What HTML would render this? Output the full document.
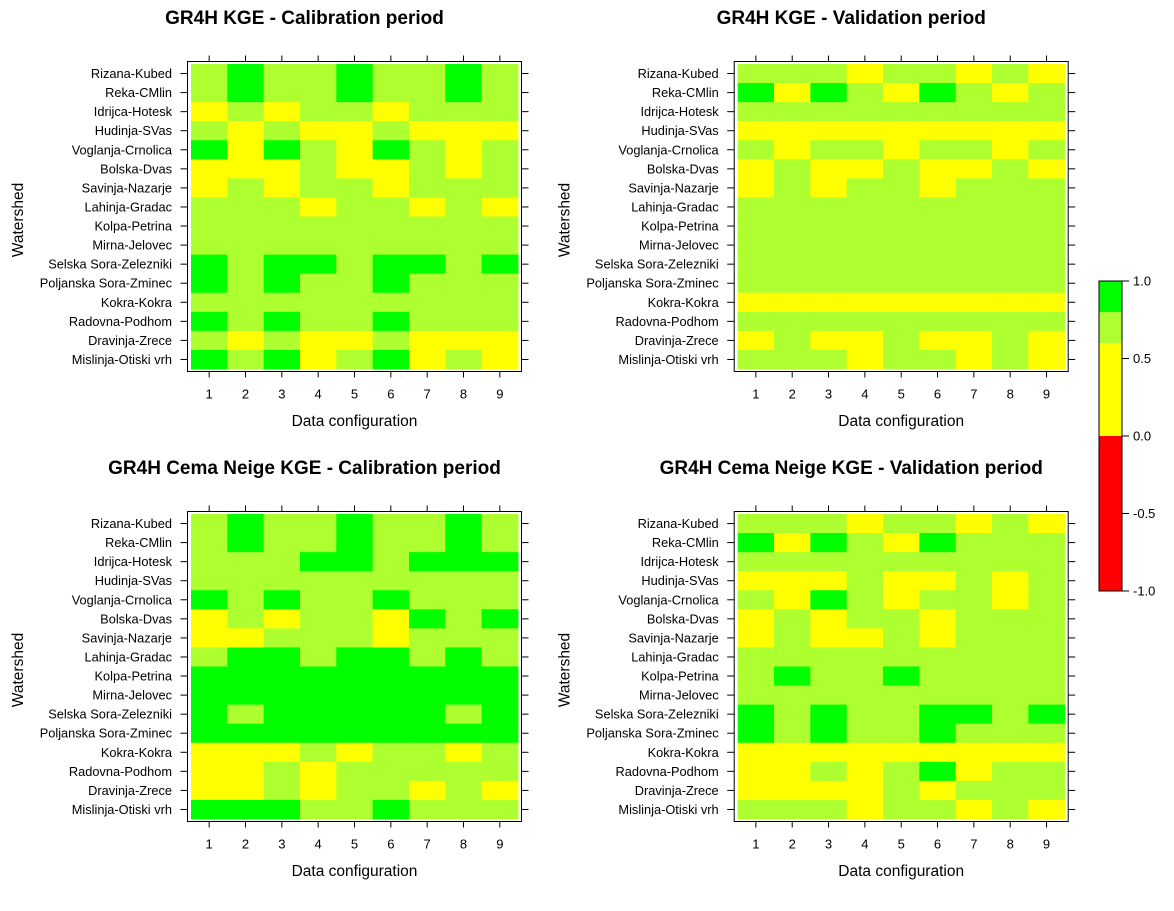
<!DOCTYPE html>
<html><head><meta charset="utf-8"><style>
body{margin:0;background:#fff;}
svg text{font-family:"Liberation Sans",Arial,sans-serif;}
</style></head><body>
<svg id="chart" width="1174" height="906" viewBox="0 0 1174 906" xmlns="http://www.w3.org/2000/svg"></svg>
<script>
const watersheds=["Rizana-Kubed","Reka-CMlin","Idrijca-Hotesk","Hudinja-SVas","Voglanja-Crnolica","Bolska-Dvas","Savinja-Nazarje","Lahinja-Gradac","Kolpa-Petrina","Mirna-Jelovec","Selska Sora-Zelezniki","Poljanska Sora-Zminec","Kokra-Kokra","Radovna-Podhom","Dravinja-Zrece","Mislinja-Otiski vrh"];
const configs=[1,2,3,4,5,6,7,8,9];
const colorBreaks=[-1,0,0.6,0.8,1];
const colorFills=["#FF0000","#FFFF00","#ADFF2F","#00FF00"];
const colorTicks=[1.0,0.5,0.0,-0.5,-1.0];
const calibGR4H=[
"LGLLGLLGL","LGLLGLLGL","YLYLLYLLL","LYLYYLYYY","GYGLYGLYL","YYYLYYLYL","YLYLLYLLL","LLLYLLYLY",
"LLLLLLLLL","LLLLLLLLL","GLGGLGGLG","GLGLLGLLL","LLLLLLLLL","GLGLLGLLL","LYLYYLYYY","GLGYLGYLY"];
const validGR4H=[
"LLLYLLYLY","GYGLYGLYL","LLLLLLLLL","YYYYYYYYY","LYLLYLLYL","YLYYLYYLY","YLYLLYLLL","LLLLLLLLL",
"LLLLLLLLL","LLLLLLLLL","LLLLLLLLL","LLLLLLLLL","YYYYYYYYY","LLLLLLLLL","YLYYLYYLY","LLLYLLYLY"];
const calibCema=[
"LGLLGLLGL","LGLLGLLGL","LLLGGLGGG","LLLLLLLLL","GLGLLGLLL","YLYLLYGLG","YYLLLYLLL","LGGLGGLGL",
"GGGGGGGGG","GGGGGGGGG","GLGGGGGLG","GGGGGGGGG","YYYLYLLYL","YYLYLLLLL","YYLYLLYLY","GGGLLGLLL"];
const validCema=[
"LLLYLLYLY","GYGLYGLLL","LLLLLLLLL","YYYLYYLYL","LYGLYLLYL","YLYLLYLLL","YLYYLYLLL","LLLLLLLLL",
"LGLLGLLLL","LLLLLLLLL","GLGLLGGLG","GLGLLGLLL","YYYYYYYYY","YYLYLGYLL","YYYYLYLLL","LLLYLLYLY"];
const codeValue={G:0.9,L:0.7,Y:0.4};

const NS="http://www.w3.org/2000/svg";
const svg=document.getElementById('chart');
function mk(tag,attrs,parent){const e=document.createElementNS(NS,tag);for(const k in attrs)e.setAttribute(k,attrs[k]);(parent||svg).appendChild(e);return e;}
function colorFor(v){for(let i=0;i<colorFills.length;i++){if(v<=colorBreaks[i+1])return colorFills[i];}return colorFills[colorFills.length-1];}

const panels=[
 {data:calibGR4H,title:"GR4H KGE - Calibration period",x0:191,y0:64,name:"gr4h-calibration"},
 {data:validGR4H,title:"GR4H KGE - Validation period",x0:737.7,y0:64,name:"gr4h-validation"},
 {data:calibCema,title:"GR4H Cema Neige KGE - Calibration period",x0:191,y0:514,name:"cema-calibration"},
 {data:validCema,title:"GR4H Cema Neige KGE - Validation period",x0:737.7,y0:514,name:"cema-validation"}];
const W=327,H=305;
panels.forEach(p=>{
 const g=mk('g',{});
 
 
 const cw=W/configs.length, ch=H/watersheds.length;
 const xs=i=>p.x0+i*cw, ys=j=>p.y0+j*ch;
 p.data.forEach((row,j)=>{
  for(let i=0;i<configs.length;i++){
   const v=codeValue[row[i]];
   const r=mk('rect',{x:xs(i),y:ys(j),width:cw+0.5,height:ch+0.5,fill:colorFor(v)},g);
   
   
  }
 });
 const fx=p.x0-3.5, fy=p.y0-2.5, fw=W+7, fh=H+5;
 const fr=mk('rect',{x:fx,y:fy,width:fw,height:fh,fill:'none',stroke:'#000','stroke-width':1},g);
 
 
 watersheds.forEach((w,j)=>{
  const y=ys(j)+ch/2;
  mk('line',{x1:fx-7,x2:fx,y1:y,y2:y,stroke:'#000'},g);
  mk('line',{x1:fx+fw,x2:fx+fw+7,y1:y,y2:y,stroke:'#000'},g);
  const t=mk('text',{x:fx-15.5,y:y+4.5,'font-size':12.8,'text-anchor':'end'},g);
  t.textContent=w;
  
  
 });
 configs.forEach((c,i)=>{
  const x=xs(i)+cw/2;
  mk('line',{x1:x,x2:x,y1:fy-6,y2:fy,stroke:'#000'},g);
  mk('line',{x1:x,x2:x,y1:fy+fh,y2:fy+fh+6,stroke:'#000'},g);
  const t=mk('text',{x:x,y:fy+fh+27,'font-size':13,'text-anchor':'middle'},g);
  t.textContent=c;
  
  
 });
 const cx=p.x0+W/2;
 const tt=mk('text',{x:cx-50,y:p.y0-40,'font-size':19,'font-weight':'bold','text-anchor':'middle'},g);
 tt.textContent=p.title;
 
 
 const xl=mk('text',{x:cx,y:p.y0+362,'font-size':15.5,'text-anchor':'middle'},g);
 xl.textContent="Data configuration";
 
 
 const yx=p.x0-168, yy=p.y0+156;
 const yl=mk('text',{x:yx,y:yy,'font-size':15.5,'text-anchor':'middle',transform:`rotate(-90 ${yx} ${yy})`},g);
 yl.textContent="Watershed";
 
 
});
// colorbar
const cb=mk('g',{});


const cbx=1099,cbw=23,cbTop=281,cbBot=591;
const vy=v=>cbTop+(1-v)/2*(cbBot-cbTop);
for(let i=0;i<colorFills.length;i++){
 const r=mk('rect',{x:cbx,y:vy(colorBreaks[i+1]),width:cbw,height:vy(colorBreaks[i])-vy(colorBreaks[i+1]),fill:colorFills[i]},cb);
 
 
}
mk('rect',{x:cbx,y:cbTop,width:cbw,height:cbBot-cbTop,fill:'none',stroke:'#000'},cb);
colorTicks.forEach(v=>{
 const y=vy(v);
 mk('line',{x1:cbx+cbw,x2:cbx+cbw+7,y1:y,y2:y,stroke:'#000'},cb);
 const t=mk('text',{x:cbx+cbw+11,y:y+4.5,'font-size':13},cb);
 t.textContent=v.toFixed(1);
 
 
});
</script>
</body></html>
